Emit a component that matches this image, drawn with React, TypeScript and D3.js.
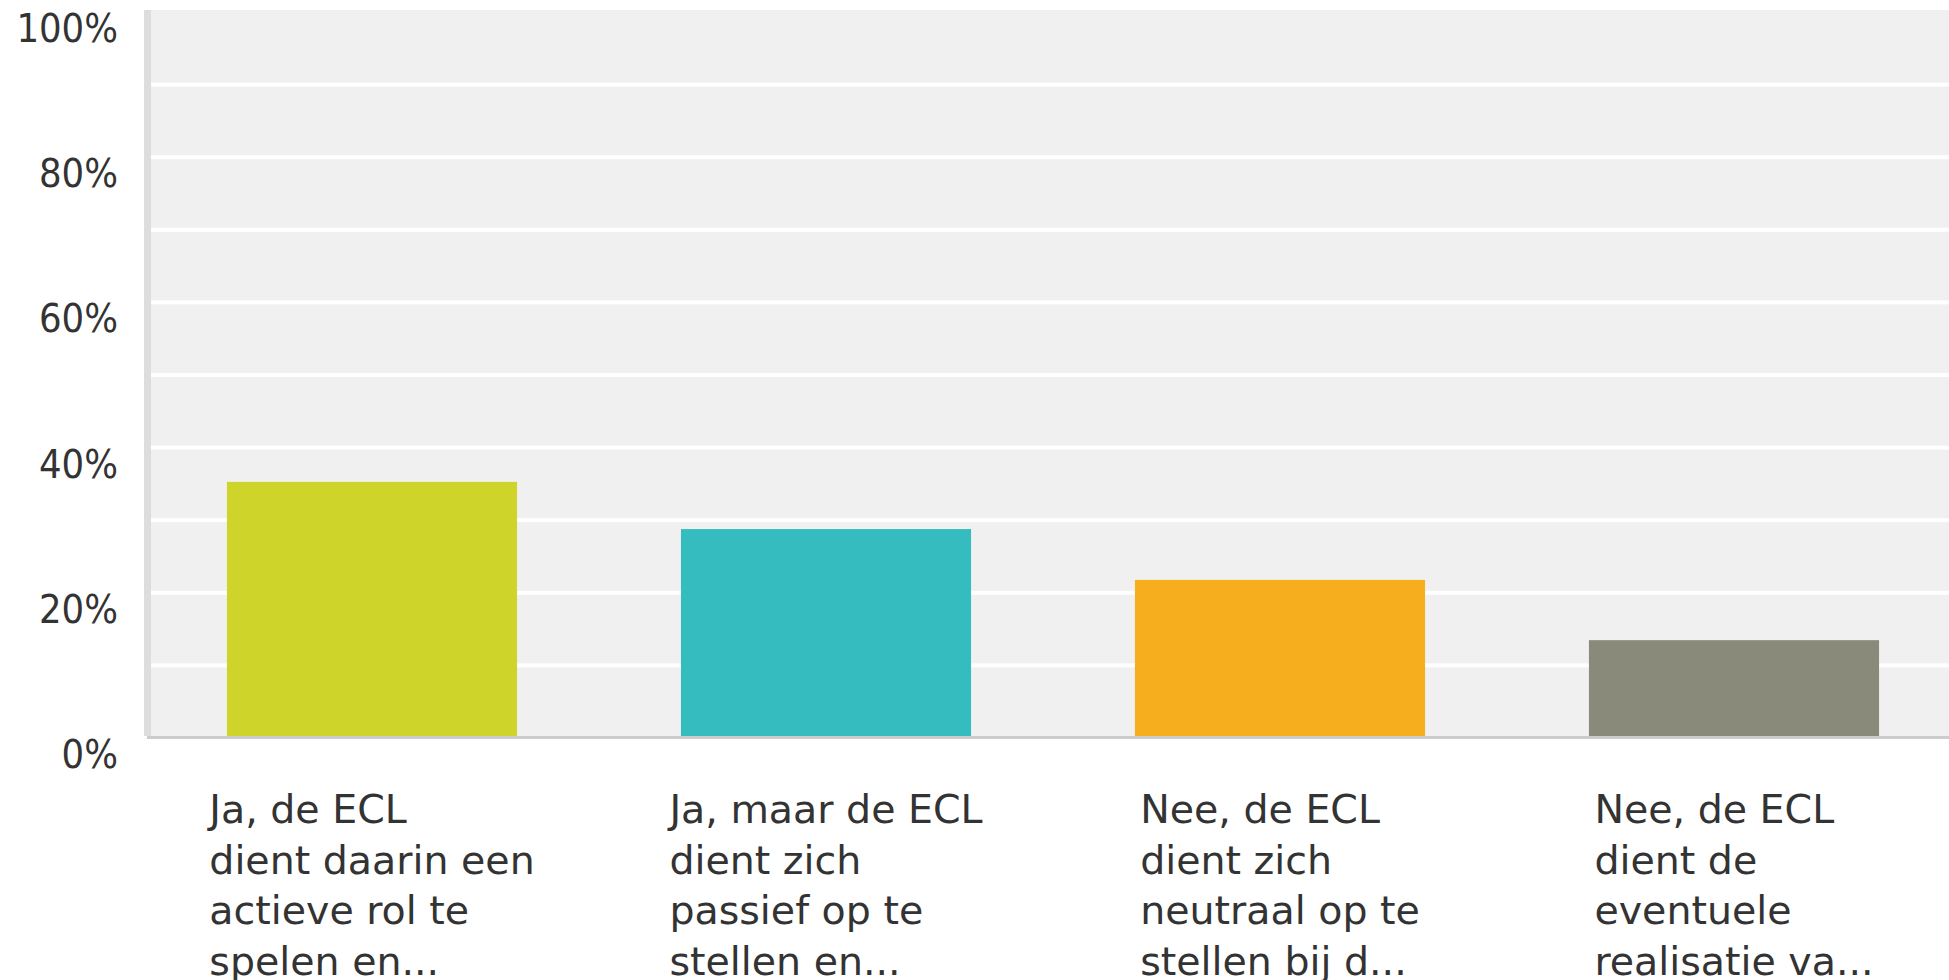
import React, { useEffect, useRef } from 'react';
import * as d3 from 'd3';

// Survey answers (category labels are already wrapped/truncated like the source)
const categories = ['a1', 'a2', 'a3', 'a4'];
const labelLines = [
  ['Ja, de ECL', 'dient daarin een', 'actieve rol te', 'spelen en...'],
  ['Ja, maar de ECL', 'dient zich', 'passief op te', 'stellen en...'],
  ['Nee, de ECL', 'dient zich', 'neutraal op te', 'stellen bij d...'],
  ['Nee, de ECL', 'dient de', 'eventuele', 'realisatie va...'],
];
const values = [35.0, 28.5, 21.5, 13.2];
const colors = ['#cfd42a', '#34bcbf', '#f6ae1e', '#8a8a7a'];
const gridTicks = [10, 20, 30, 40, 50, 60, 70, 80, 90, 100];
const labelTicks = [0, 20, 40, 60, 80, 100];

const App = () => {
  const chartRef = useRef(null);

  useEffect(() => {
    d3.select(chartRef.current).selectAll('*').remove();

    const width = 1949;
    const height = 980;
    const plotTop = 10;
    const plotBottom = 736;
    const plotLeft = 151;

    const x = d3.scaleBand()
      .domain(categories)
      .range([145, 1961])
      .paddingInner(0.361)
      .paddingOuter(0.1805);

    const y = d3.scaleLinear()
      .domain([0, 100])
      .range([plotBottom, plotTop]);

    const svg = d3.select(chartRef.current)
      .append('svg')
      .attr('width', width)
      .attr('height', height)
      .style('position', 'absolute')
      .style('left', 0)
      .style('top', 0)
      .style('background', '#fff');

    // plot background
    svg.append('rect')
      .attr('x', plotLeft)
      .attr('y', plotTop)
      .attr('width', width - plotLeft)
      .attr('height', plotBottom - plotTop)
      .attr('fill', '#f0f0f0');

    // gridlines
    svg.append('g')
      .selectAll('rect')
      .data(gridTicks.slice(0, -1))
      .enter().append('rect')
      .attr('x', plotLeft)
      .attr('y', d => y(d))
      .attr('width', width - plotLeft)
      .attr('height', 4)
      .attr('fill', '#ffffff');

    // bars
    svg.append('g')
      .selectAll('rect')
      .data(values)
      .enter().append('rect')
      .attr('x', (d, i) => x(categories[i]))
      .attr('y', d => y(d))
      .attr('width', x.bandwidth())
      .attr('height', d => plotBottom - y(d))
      .attr('fill', (d, i) => colors[i]);

    // left axis band and baseline
    svg.append('rect')
      .attr('x', 144)
      .attr('y', plotTop)
      .attr('width', 7)
      .attr('height', plotBottom - plotTop)
      .attr('fill', '#dddddd');
    svg.append('rect')
      .attr('x', 147)
      .attr('y', plotBottom)
      .attr('width', width - 147)
      .attr('height', 3)
      .attr('fill', '#cccccc');

    // y labels
    svg.append('g')
      .selectAll('text')
      .data(labelTicks)
      .enter().append('text')
      .attr('x', 118)
      .attr('y', d => y(d) + 32)
      .attr('text-anchor', 'end')
      .attr('font-family', '"DejaVu Sans Condensed", "Liberation Sans", sans-serif')
      .attr('font-size', 39.5)
      .attr('fill', '#333333')
      .text(d => `${d}%`);

    // category labels: block centred on band, lines left-aligned
    labelLines.forEach((lines, i) => {
      const g = svg.append('g');
      const t = g.append('text')
        .attr('font-family', '"DejaVu Sans", Verdana, sans-serif')
        .attr('font-size', 39.5)
        .attr('fill', '#333333');
      lines.forEach((line, j) => {
        t.append('tspan')
          .attr('x', 0)
          .attr('y', 823 + j * 50.7)
          .text(line);
      });
      const w = d3.max(t.selectAll('tspan').nodes(), (n: any) => n.getComputedTextLength()) || 0;
      const cx = x(categories[i]) + x.bandwidth() / 2;
      g.attr('transform', `translate(${cx - w / 2},0)`);
    });
  }, []);

  return (
    <div ref={chartRef}></div>
  );
};

export default App;
